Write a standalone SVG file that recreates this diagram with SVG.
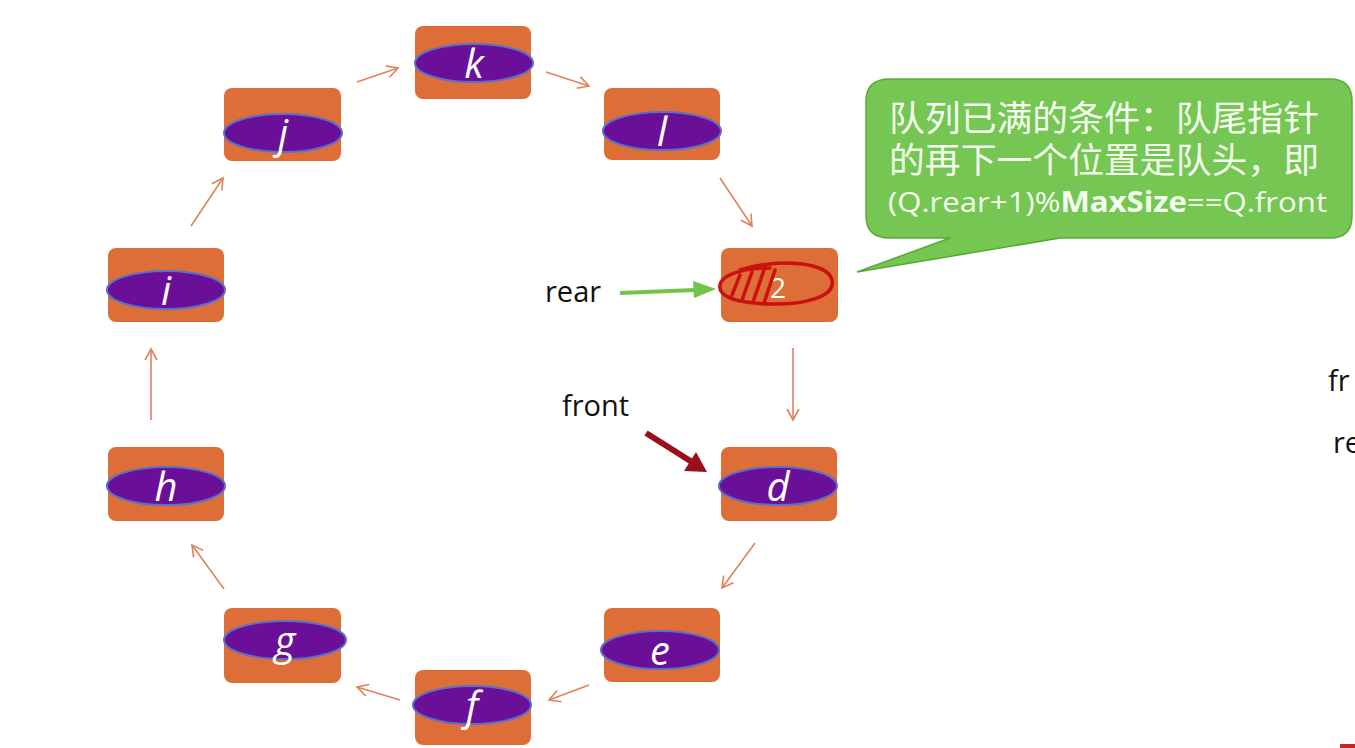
<svg xmlns="http://www.w3.org/2000/svg" width="1355" height="748" viewBox="0 0 1355 748">
<defs>
<style>
.box{fill:#dd6e37;}
.ell{fill:#6a0f98;stroke:#5a70c8;stroke-width:2;}
.lt{fill:#ffffff;font-family:"Open Sans","Liberation Sans",sans-serif;font-style:italic;font-size:40px;text-anchor:middle;}
.conn{stroke:#e0825a;stroke-width:1.6;fill:none;marker-end:url(#oa);}
.lbl{fill:#111;font-family:"Open Sans","Liberation Sans",sans-serif;font-size:29px;}
.ct{fill:#f4fff0;font-family:"Liberation Sans","Noto Sans CJK SC",sans-serif;font-size:35px;}
</style>
<marker id="oa" markerWidth="14" markerHeight="14" refX="12" refY="7" orient="auto" markerUnits="userSpaceOnUse">
<path d="M1,1 L12,7 L1,13" fill="none" stroke="#e0825a" stroke-width="1.6"/>
</marker>
</defs>
<rect width="1355" height="748" fill="#ffffff"/>
<g id="node-k"><rect class="box" x="415" y="26" width="116" height="73" rx="8"/><ellipse class="ell" cx="474" cy="63" rx="59" ry="19"/><text class="lt" x="474" y="78">k</text></g>
<g id="node-j"><rect class="box" x="224" y="88" width="117" height="73" rx="8"/><ellipse class="ell" cx="283" cy="133" rx="59" ry="19"/><text class="lt" x="283" y="148">j</text></g>
<g id="node-l"><rect class="box" x="604" y="88" width="116" height="72" rx="8"/><ellipse class="ell" cx="662" cy="131" rx="59" ry="19"/><text class="lt" x="662" y="146">l</text></g>
<g id="node-2"><rect class="box" x="721" y="248" width="117" height="74" rx="8"/><text x="778" y="298" fill="#ffffff" font-family="Open Sans, Liberation Sans, sans-serif" font-size="28" text-anchor="middle">2</text>
<g fill="none" stroke="#cc1010" stroke-width="3.5" stroke-linecap="round">
<path d="M740,270 C780,258 828,262 832,280 C836,298 800,305 770,304 C740,303 718,298 720,285 C722,274 745,268 770,268"/>
<path d="M732,295 L740,275 M742,300 L752,272 M753,302 L764,270 M764,303 L775,270"/>
</g></g>
<g id="node-i"><rect class="box" x="108" y="248" width="116" height="74" rx="8"/><ellipse class="ell" cx="166" cy="290" rx="59" ry="19"/><text class="lt" x="166" y="305">i</text></g>
<g id="node-h"><rect class="box" x="108" y="447" width="116" height="74" rx="8"/><ellipse class="ell" cx="166" cy="486" rx="59" ry="19"/><text class="lt" x="166" y="501">h</text></g>
<g id="node-d"><rect class="box" x="721" y="447" width="116" height="74" rx="8"/><ellipse class="ell" cx="778" cy="486" rx="59" ry="19"/><text class="lt" x="778" y="501">d</text></g>
<g id="node-g"><rect class="box" x="224" y="608" width="117" height="75" rx="8"/><ellipse class="ell" cx="285" cy="640" rx="61" ry="19"/><text class="lt" x="285" y="655">g</text></g>
<g id="node-e"><rect class="box" x="604" y="608" width="116" height="74" rx="8"/><ellipse class="ell" cx="660" cy="650" rx="59" ry="19"/><text class="lt" x="660" y="665">e</text></g>
<g id="node-f"><rect class="box" x="415" y="670" width="116" height="75" rx="8"/><ellipse class="ell" cx="472" cy="705" rx="59" ry="19"/><text class="lt" x="472" y="720">f</text></g>
<g id="connectors">
<path class="conn" d="M357,82 L398,68"/>
<path class="conn" d="M546,72 L589,86"/>
<path class="conn" d="M720,178 L752,226"/>
<path class="conn" d="M793,348 L793,420"/>
<path class="conn" d="M755,543 L722,588"/>
<path class="conn" d="M589,685 L549,700"/>
<path class="conn" d="M400,700 L357,687"/>
<path class="conn" d="M224,589 L192,545"/>
<path class="conn" d="M151,420 L151,349"/>
<path class="conn" d="M191,226 L223,178"/>
<path d="M620,293 L695,290" stroke="#72c24c" stroke-width="4" fill="none"/>
<path d="M693,281 L716,289 L694,298 Z" fill="#72c24c"/>
<path d="M646,433 L692,462" stroke="#9a0f1c" stroke-width="6" fill="none"/>
<path d="M684,471 L707,472 L696,452 Z" fill="#9a0f1c"/>
</g>
<g id="labels">
<text class="lbl" x="545" y="302">rear</text>
<text class="lbl" x="562" y="416">front</text>
<text class="lbl" x="1328" y="391">fr</text>
<text class="lbl" x="1333" y="453">re</text>
</g>
<g id="callout">
<path d="M890,79 L1330,79 Q1352,79 1352,101 L1352,216 Q1352,238 1330,238 L1060,238 L857,272 L950,238 L890,238 Q866,238 866,216 L866,101 Q866,79 890,79 Z" fill="#76c653" stroke="#5aa83a" stroke-width="1.5"/>
<text class="ct" x="889" y="131" textLength="430" lengthAdjust="spacingAndGlyphs">队列已满的条件：队尾指针</text>
<text class="ct" x="889" y="173" textLength="430" lengthAdjust="spacingAndGlyphs">的再下一个位置是队头，即</text>
<text x="888" y="212" fill="#f4fff0" font-family="Open Sans, Liberation Sans, sans-serif" font-size="28" textLength="439" lengthAdjust="spacingAndGlyphs">(Q.rear+1)%<tspan font-weight="bold">MaxSize</tspan>==Q.front</text>
</g>
<rect x="1340" y="744" width="15" height="4" fill="#c0282a"/>
</svg>
